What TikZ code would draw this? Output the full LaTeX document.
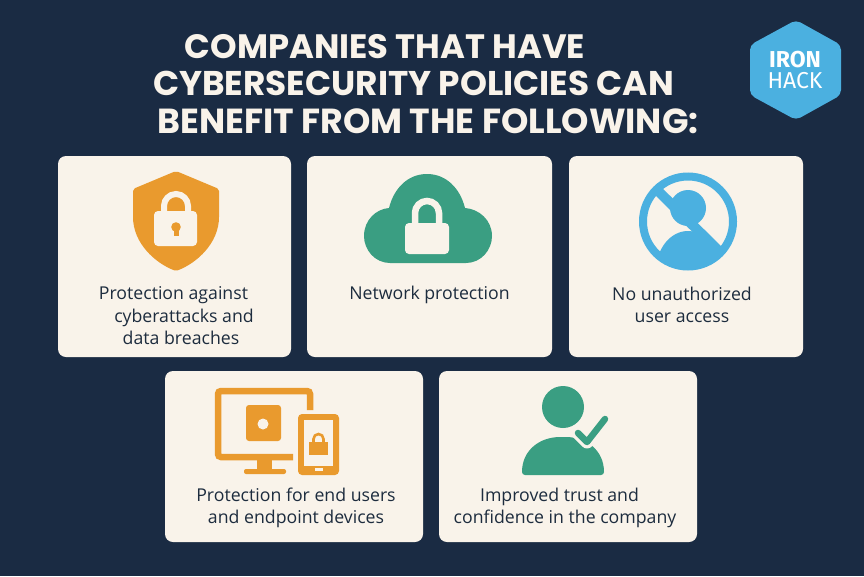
\documentclass[tikz,border=0pt]{standalone}
\usepackage{fontspec}
\setmainfont{Open Sans}
\newfontfamily\titlefont{Poppins}
\newfontfamily\logofont{Fira Sans}
\definecolor{bgnavy}{HTML}{1A2B43}
\definecolor{cardc}{HTML}{F9F3EA}
\definecolor{orangec}{HTML}{E99A2E}
\definecolor{greenc}{HTML}{3A9E82}
\definecolor{bluec}{HTML}{4BB0E0}
\definecolor{txtc}{HTML}{1D2C3E}
\tikzset{x=1pt,y=-1pt,
 cardbox/.style={fill=cardc,rounded corners=8pt,draw=none},
 cardtext/.style={text=txtc,font=\fontsize{17.7}{22.5}\selectfont,align=center,inner sep=0pt},
 titletext/.style={text=cardc,inner sep=0pt,anchor=base}}
\begin{document}
\begin{tikzpicture}
\useasboundingbox (0,0) rectangle (864,576);
\fill[bgnavy] (0,0) rectangle (864,576);
\node[titletext,font=\titlefont\fontsize{33.8}{36}\selectfont\bfseries] (t1) at (385,58) {COMPANIES THAT HAVE};
\node[titletext,font=\titlefont\fontsize{34.3}{36}\selectfont\bfseries] (t2) at (413.5,95.5) {CYBERSECURITY POLICIES CAN};
\node[titletext,font=\titlefont\fontsize{34.8}{36}\selectfont\bfseries] (t3) at (428,133) {BENEFIT FROM THE FOLLOWING:};
% logo
\fill[bluec,rounded corners=5pt] (796,20) -- (841,45) -- (841,95) -- (796,120) -- (750,95) -- (750,45) -- cycle;
\node[text=white,font=\logofont\fontsize{23}{25}\selectfont\bfseries,inner sep=0pt] (l1) at (795,60) {IRON};
\node[text=white,font=\logofont\fontsize{23}{25}\selectfont,inner sep=0pt] (l2) at (795,81) {HACK};
% cards
\fill[cardbox] (58,156) rectangle (291,357);
\fill[cardbox] (307,156) rectangle (552,357);
\fill[cardbox] (569,156) rectangle (803,357);
\fill[cardbox] (165,371) rectangle (423,542);
\fill[cardbox] (439,371) rectangle (697,542);
% shield
\fill[orangec,rounded corners=2pt] (176,171) -- (133,189) -- (133,215) .. controls (133,243) and (155,263) .. (176,271) .. controls (197,263) and (219,243) .. (219,215) -- (219,189) -- cycle;
\draw[cardc,line width=6pt] (164,215) -- (164,206) arc[start angle=180,end angle=360,radius=12] -- (188,215);
\fill[cardc,rounded corners=4pt] (154,211) rectangle (197,246);
\fill[orangec] (176,227) circle (4.8);
\fill[orangec] (174,227) rectangle (178.5,236);
% cloud
\fill[greenc] (390,263) .. controls (375,263) and (364,250) .. (364,236) .. controls (364,220) and (376,209) .. (389,208) .. controls (394,188) and (408,174) .. (427,174) .. controls (446,174) and (460,188) .. (465,208) .. controls (479,209) and (492,220) .. (492,236) .. controls (492,250) and (481,263) .. (466,263) -- cycle;
\draw[cardc,line width=6.5pt] (415,226) -- (415,213) arc[start angle=180,end angle=360,radius=12] -- (439,226);
\fill[cardc,rounded corners=4pt] (405,223) rectangle (449,254);
% no user
\begin{scope}
\clip (688,221.5) circle (44);
\fill[bluec] (688,271) ellipse (32 and 40);
\fill[bluec] (698,224) -- (730,256) -- (730,275) -- (688,275) -- cycle;
\end{scope}
\draw[bluec,line width=8pt] (688,221.5) circle (45);
\draw[bluec,line width=10pt] (654,187) -- (723,255);
\fill[bluec] (688,208) circle (18);
% devices
\draw[orangec,line width=6.5pt,rounded corners=3pt] (310,410) -- (310,391) -- (218,391) -- (218,457) -- (293,457);
\fill[orangec] (257,460) rectangle (272,470);
\fill[orangec,rounded corners=2pt] (244,469) rectangle (286,474);
\fill[orangec,rounded corners=3pt] (246,405) rectangle (281,441);
\fill[cardc] (263,424) circle (5.5);
\fill[orangec,rounded corners=4pt] (298,414) rectangle (339,475);
\fill[cardc] (304,420) rectangle (333,466);
\fill[cardc] (315,468) rectangle (323,471);
\draw[orangec,line width=2.6pt] (313.5,444) -- (313.5,439) arc[start angle=180,end angle=360,radius=5] -- (323.5,444);
\fill[orangec] (309,442) rectangle (328,455);
% user check
\fill[greenc] (563,407) circle (21);
\fill[greenc,rounded corners=3pt] (522,475) .. controls (522,450) and (540,437) .. (563,437) .. controls (586,437) and (604,450) .. (604,475) -- cycle;
\draw[cardc,line width=13pt,line join=round] (574,429) -- (587,442) -- (605,419);
\draw[greenc,line width=6.5pt,line cap=round,line join=round] (578,433) -- (587,442) -- (605,419);
% texts
\node[cardtext] (c1) at (180,316) {Protection against\hspace*{13pt}\\\hspace*{8pt}cyberattacks and\\\hspace*{2pt}data breaches};
\node[cardtext] (c2) at (429.5,294.5) {Network protection};
\node[cardtext] (c3) at (682,305) {No unauthorized\\user access};
\node[cardtext] (c4) at (296,508) {Protection for end users\\and endpoint devices};
\node[cardtext] (c5) at (565,508) {Improved trust and\hspace*{11pt}\\confidence in the company};
\end{tikzpicture}
\end{document}
